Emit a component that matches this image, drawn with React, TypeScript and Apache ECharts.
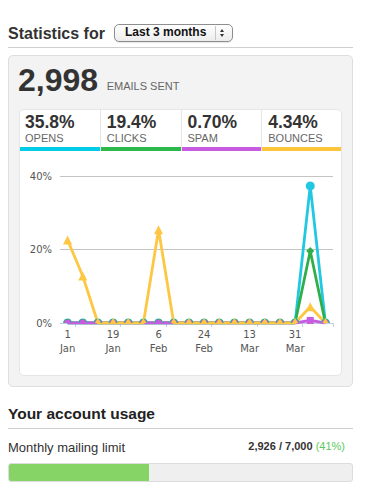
import React, { useEffect, useRef } from "react";
import * as echarts from "echarts";

const categories = ["1 Jan","7 Jan","13 Jan","19 Jan","25 Jan","31 Jan","6 Feb","12 Feb","18 Feb","24 Feb","1 Mar","7 Mar","13 Mar","19 Mar","25 Mar","31 Mar","6 Apr","12 Apr"];
const opens =   [0,0,0,0,0,0,0,0,0,0,0,0,0,0,0,0,37.3,0];
const clicks =  [0,0,0,0,0,0,0,0,0,0,0,0,0,0,0,0,19.6,0];
const spam =    [0,0,0,0,0,0,0,0,0,0,0,0,0,0,0,0,0.7,0];
const bounces = [22.6,12.8,0,0,0,0,25.4,0,0,0,0,0,0,0,0,0,4.4,0];

const statValues = ["35.8%", "19.4%", "0.70%", "4.34%"];
const statLabels = ["OPENS", "CLICKS", "SPAM", "BOUNCES"];
const statColors = ["#00cce8", "#2db84b", "#c95be0", "#fdc53c"];
const lineColors = ["#22c8e2", "#2fae49", "#c75ce0", "#fdc744"];

const emailsSent = "2,998";
const usageText = "2,926 / 7,000";
const usagePct = 41;

const FONT = '"Liberation Sans", Arial, Helvetica, sans-serif';

const HALF_CIRCLE = "path://M0,10 A10,10 0 0 1 20,10 Z";
const HALF_TRIANGLE = "path://M5,0 L10,10 L0,10 Z";

function Chart() {
  const ref = useRef<HTMLDivElement>(null);
  useEffect(() => {
    if (!ref.current) return;
    const chart = echarts.init(ref.current, undefined, { renderer: "svg" });
    const mk = (name: string, data: number[], color: string, symbol: string, size: number) => {
      const zeroSym = symbol === "triangle" ? HALF_TRIANGLE : HALF_CIRCLE;
      const zeroSize = symbol === "triangle" ? [6, 5] : [size, size / 2];
      return {
        name,
        type: "line",
        data,
        symbol: (v: number) => (v === 0 ? zeroSym : symbol),
        symbolSize: (v: number) => (v === 0 ? zeroSize : size),
        symbolOffset: (v: number) => (v === 0 ? [0, -(zeroSize[1] as number) / 2] : [0, 0]),
        showAllSymbol: true,
        lineStyle: { width: 2.8, color },
        itemStyle: { color },
        emphasis: { disabled: true },
      };
    };
    chart.setOption({
      animation: false,
      grid: { left: 41, right: 9, top: 26, bottom: 53 },
      xAxis: {
        type: "category",
        data: categories,
        boundaryGap: true,
        axisLine: { show: true, lineStyle: { color: "#c0d0e0", width: 1 } },
        axisTick: {
          show: true,
          interval: (i: number) => i % 3 === 1,
          length: 4,
          lineStyle: { color: "#c0d0e0" },
        },
        axisLabel: {
          interval: 2,
          formatter: (v: string) => v.replace(" ", "\n"),
          color: "#555",
          fontFamily: "DejaVu Sans",
          fontSize: 10,
          lineHeight: 14,
          margin: 4,
        },
        splitLine: { show: false },
      },
      yAxis: {
        type: "value",
        min: 0,
        max: 40,
        interval: 20,
        axisLine: { show: false },
        axisTick: { show: false },
        axisLabel: {
          formatter: "{value}%",
          color: "#555",
          fontFamily: "DejaVu Sans",
          fontSize: 10,
          margin: 8,
        },
        splitLine: { lineStyle: { color: "#c4c4c4", width: 1 } },
      },
      series: [
        mk("Opens", opens, lineColors[0], "circle", 9),
        mk("Clicks", clicks, lineColors[1], "diamond", 8),
        mk("Spam", spam, lineColors[2], "rect", 7),
        mk("Bounces", bounces, lineColors[3], "triangle", 9),
      ],
    });
    return () => chart.dispose();
  }, []);
  return <div ref={ref} style={{ position: "absolute", left: 19, top: 150, width: 323, height: 226 }} />;
}

export default function App() {
  const abs = (s: React.CSSProperties): React.CSSProperties => ({ position: "absolute", boxSizing: "border-box", ...s });
  return (
    <div style={{ position: "absolute", left: 0, top: 0, width: 373, height: 504, background: "#fff", fontFamily: FONT, overflow: "hidden" }}>
      <div style={abs({ left: 8, top: 25.8, fontSize: 16, lineHeight: "16px", fontWeight: "bold", color: "#333", whiteSpace: "nowrap" })}>Statistics for</div>
      <div style={abs({ left: 114, top: 24.3, width: 118.7, height: 18, border: "1px solid #8e8e8e", borderRadius: 5, background: "linear-gradient(#ffffff, #ececec)", boxShadow: "0 1px 1px rgba(0,0,0,0.1)" })}>
        <div style={abs({ left: 10, top: 1.2, fontSize: 12, lineHeight: "12px", fontWeight: "bold", color: "#111", whiteSpace: "nowrap" })}>Last 3 months</div>
        <div style={abs({ left: 100, top: 1, width: 1, height: 14, background: "#c8c8c8" })} />
        <div style={abs({ left: 105, top: 3.5, width: 0, height: 0, borderLeft: "2.5px solid transparent", borderRight: "2.5px solid transparent", borderBottom: "3.5px solid #333" })} />
        <div style={abs({ left: 105, top: 9, width: 0, height: 0, borderLeft: "2.5px solid transparent", borderRight: "2.5px solid transparent", borderTop: "3.5px solid #333" })} />
      </div>
      <div style={abs({ left: 8, top: 47, width: 345, height: 1, background: "#cfcfcf" })} />

      <div style={abs({ left: 8, top: 55, width: 344.7, height: 331.7, background: "#f3f3f3", border: "1px solid #dedede", borderRadius: 5 })} />
      <div style={abs({ left: 18, top: 63.6, fontSize: 32, lineHeight: "32px", fontWeight: "bold", color: "#333", whiteSpace: "nowrap" })}>{emailsSent}</div>
      <div style={abs({ left: 106.7, top: 81.4, fontSize: 11, lineHeight: "11px", color: "#666", whiteSpace: "nowrap" })}>EMAILS SENT</div>

      <div style={abs({ left: 19, top: 108.7, width: 323, height: 267.3, background: "#fff", border: "1px solid #e6e6e6", borderRadius: 5, overflow: "hidden" })}>
        {statValues.map((v, i) => (
          <div key={i} style={abs({ left: i * 80.75 - 1, top: -1, width: 80.75, height: 42, borderLeft: i > 0 ? "1px solid #e6e6e6" : "none" })}>
            <div style={abs({ left: 6, top: 5.8, fontSize: 17.5, lineHeight: "17.5px", fontWeight: "bold", color: "#333", whiteSpace: "nowrap" })}>{v}</div>
            <div style={abs({ left: 6, top: 24.7, fontSize: 11, lineHeight: "11px", color: "#666", whiteSpace: "nowrap" })}>{statLabels[i]}</div>
            <div style={abs({ left: 0, top: 38.3, width: i > 0 ? 79.75 : 80.75, height: 3.7, background: statColors[i] })} />
          </div>
        ))}
      </div>
      <Chart />

      <div style={abs({ left: 8, top: 406.2, fontSize: 15.5, lineHeight: "15.5px", fontWeight: "bold", color: "#222", whiteSpace: "nowrap" })}>Your account usage</div>
      <div style={abs({ left: 8, top: 428, width: 345, height: 1, background: "#cfcfcf" })} />
      <div style={abs({ left: 8, top: 440.7, fontSize: 13, lineHeight: "13px", color: "#333", whiteSpace: "nowrap" })}>Monthly mailing limit</div>
      <div style={abs({ right: 28, top: 441.4, fontSize: 11, lineHeight: "11px", color: "#333", whiteSpace: "nowrap" })}>
        <span style={{ fontWeight: "bold" }}>{usageText}</span>{" "}
        <span style={{ color: "#5cc85c" }}>({usagePct}%)</span>
      </div>
      <div style={abs({ left: 8, top: 463.3, width: 344.7, height: 19, background: "#efefef", border: "1px solid #dcdcdc", borderRadius: 3, overflow: "hidden" })}>
        <div style={abs({ left: -1, top: -1, width: (344.7 * usagePct) / 100, height: 19, background: "#85d465" })} />
      </div>
    </div>
  );
}
